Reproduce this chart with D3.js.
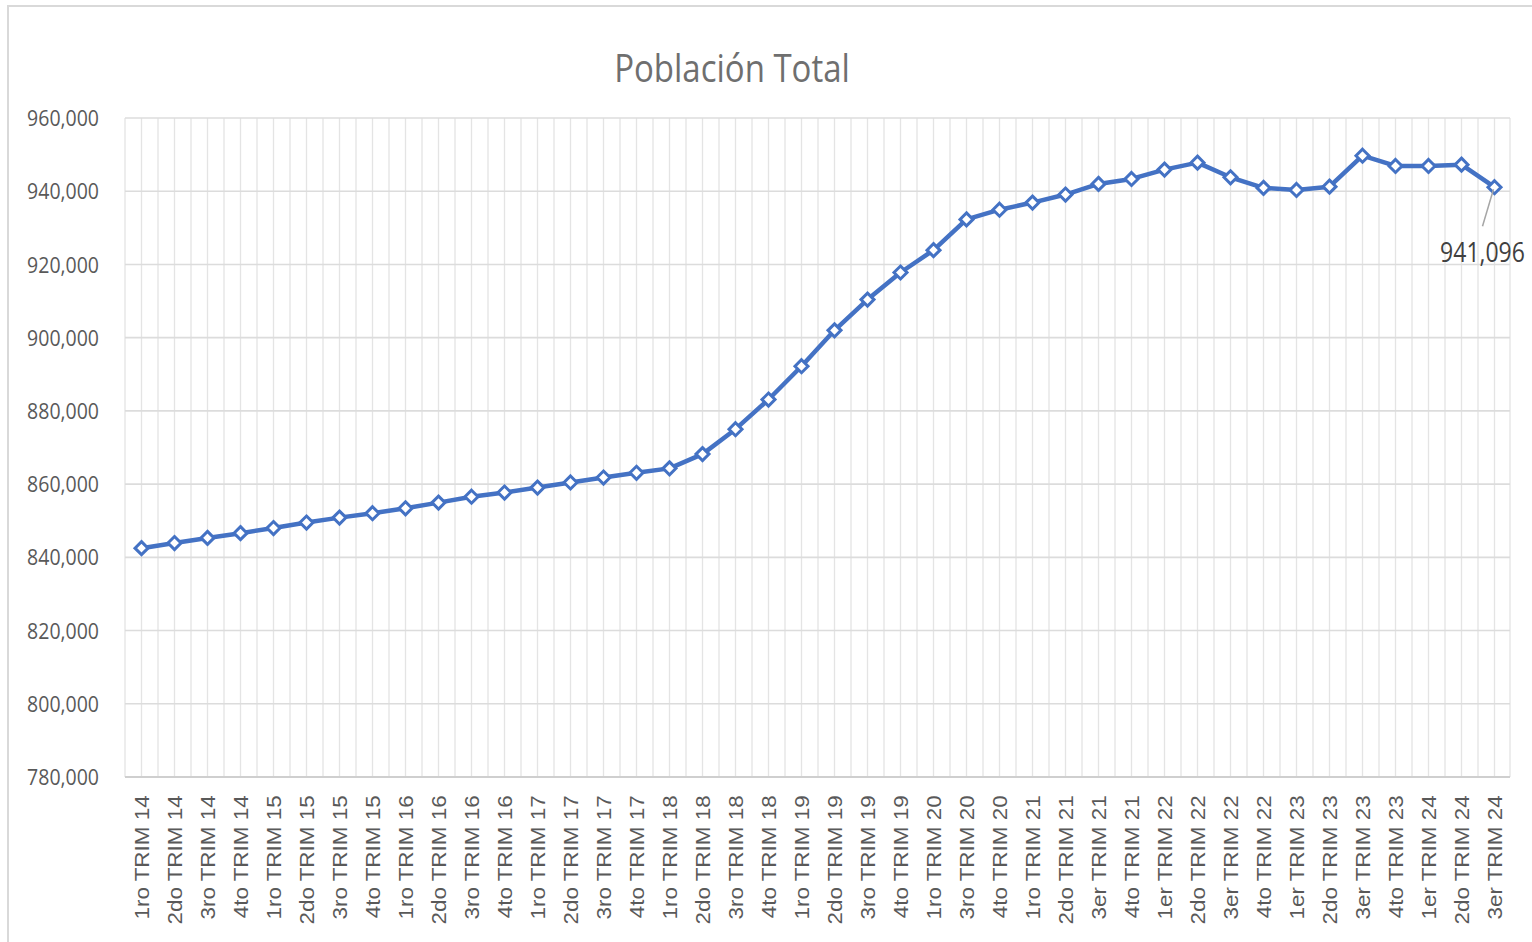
<!DOCTYPE html>
<html>
<head>
<meta charset="utf-8">
<script src="https://cdn.jsdelivr.net/npm/d3@7"></script>
<style>
  html, body { margin: 0; padding: 0; background: #ffffff; }
  svg { display: block; }
</style>
</head>
<body>
<svg id="chart" width="1532" height="942"></svg>
<script>
const title = "Población Total";
const categories = [
  "1ro TRIM 14","2do TRIM 14","3ro TRIM 14","4to TRIM 14",
  "1ro TRIM 15","2do TRIM 15","3ro TRIM 15","4to TRIM 15",
  "1ro TRIM 16","2do TRIM 16","3ro TRIM 16","4to TRIM 16",
  "1ro TRIM 17","2do TRIM 17","3ro TRIM 17","4to TRIM 17",
  "1ro TRIM 18","2do TRIM 18","3ro TRIM 18","4to TRIM 18",
  "1ro TRIM 19","2do TRIM 19","3ro TRIM 19","4to TRIM 19",
  "1ro TRIM 20","3ro TRIM 20","4to TRIM 20",
  "1ro TRIM 21","2do TRIM 21","3er TRIM 21","4to TRIM 21",
  "1er TRIM 22","2do TRIM 22","3er TRIM 22","4to TRIM 22",
  "1er TRIM 23","2do TRIM 23","3er TRIM 23","4to TRIM 23",
  "1er TRIM 24","2do TRIM 24","3er TRIM 24"
];
const poblacion = [
  842500, 843900, 845300, 846600,
  848000, 849500, 850850, 852050,
  853400, 854950, 856550, 857700,
  859050, 860450, 861800, 863100,
  864300, 868200, 875000, 883100,
  892200, 902000, 910400, 917800,
  923900, 932300, 934950,
  936900, 939100, 942000, 943350,
  945900, 947800, 943800, 940900,
  940350, 941250, 949700, 946900,
  946900, 947250, 941096
];
const yTicks = [780000, 800000, 820000, 840000, 860000, 880000, 900000, 920000, 940000, 960000];
const labelledIndex = poblacion.length - 1;

const svg = d3.select("#chart");
const plot = { left: 125, right: 1511, top: 118, bottom: 777 };
const VS = 1.15; // vertical stretch of glyphs in the reference

// chart border
svg.append("rect")
  .attr("x", 8).attr("y", 6).attr("width", 1540).attr("height", 950)
  .attr("fill", "#ffffff").attr("stroke", "#d9d9d9").attr("stroke-width", 2);

const x = d3.scaleBand().domain(categories).range([plot.left, plot.right]).padding(0);
const y = d3.scaleLinear().domain([780000, 960000]).range([plot.bottom, plot.top]);

// vertical gridlines (category boundaries and centres)
const vgrid = [];
categories.forEach(c => { vgrid.push(x(c)); vgrid.push(x(c) + x.bandwidth() / 2); });
vgrid.push(plot.right - 1);
svg.append("g").selectAll("line").data(vgrid).join("line")
  .attr("x1", d => d).attr("x2", d => d)
  .attr("y1", plot.top).attr("y2", plot.bottom)
  .attr("stroke", "#e4e4e4").attr("stroke-width", 1.3);

// horizontal gridlines
svg.append("g").selectAll("line").data(yTicks.filter(t => t !== 780000)).join("line")
  .attr("x1", plot.left).attr("x2", plot.right - 1)
  .attr("y1", d => y(d)).attr("y2", d => y(d))
  .attr("stroke", "#dcdcdc").attr("stroke-width", 1.6);

// y axis
const yAxis = svg.append("g").attr("transform", `translate(${plot.left},0)`)
  .call(d3.axisLeft(y).tickValues(yTicks).tickSize(0).tickPadding(26).tickFormat(d3.format(",")));
yAxis.select(".domain").remove();
yAxis.selectAll("text")
  .attr("font-family", "'Open Sans', sans-serif")
  .attr("font-size", 19.5)
  .attr("fill", "#595959")
  .attr("dy", "0.34em")
  .attr("transform", `scale(1,${VS})`);

// x axis
const xAxis = svg.append("g").attr("transform", `translate(0,${plot.bottom})`)
  .call(d3.axisBottom(x).tickSize(0).tickPadding(0));
xAxis.select(".domain").attr("stroke", "#cfcfcf").attr("stroke-width", 2)
  .attr("d", `M${plot.left},0H${plot.right - 1}`);
xAxis.selectAll("text")
  .attr("font-family", "'Liberation Sans', Arial, sans-serif")
  .attr("font-size", 19.5)
  .attr("fill", "#595959")
  .attr("text-anchor", "end")
  .attr("x", -16)
  .attr("y", 0)
  .attr("dy", "0.36em")
  .attr("transform", `rotate(-90) scale(${VS},1)`);

// line
const line = d3.line()
  .x((d, i) => x(categories[i]) + x.bandwidth() / 2)
  .y(d => y(d));
svg.append("path").datum(poblacion)
  .attr("d", line)
  .attr("fill", "none")
  .attr("stroke", "#4472C4")
  .attr("stroke-width", 4.5)
  .attr("stroke-linejoin", "round");

// diamond markers
const r = 6.5;
svg.append("g").selectAll("path").data(poblacion).join("path")
  .attr("transform", (d, i) => `translate(${x(categories[i]) + x.bandwidth() / 2},${y(d)})`)
  .attr("d", `M0,${-r}L${r},0L0,${r}L${-r},0Z`)
  .attr("fill", "#ffffff")
  .attr("stroke", "#4472C4")
  .attr("stroke-width", 3);

// data label with leader line
const lx = x(categories[labelledIndex]) + x.bandwidth() / 2;
const ly = y(poblacion[labelledIndex]);
svg.append("line")
  .attr("x1", lx - 1).attr("y1", ly + 2)
  .attr("x2", lx - 12).attr("y2", ly + 39)
  .attr("stroke", "#a6a6a6").attr("stroke-width", 1.5);
svg.append("text")
  .attr("transform", `translate(${lx - 12},${ly + 75}) scale(1,${VS})`)
  .attr("text-anchor", "middle")
  .attr("font-family", "'Open Sans', sans-serif")
  .attr("font-size", 23)
  .attr("fill", "#404040")
  .text(d3.format(",")(poblacion[labelledIndex]));

// title
svg.append("text")
  .attr("transform", `translate(732,82) scale(1,${VS})`)
  .attr("text-anchor", "middle")
  .attr("font-family", "'Open Sans', sans-serif")
  .attr("font-size", 33)
  .attr("fill", "#6f6f6f")
  .text(title);
</script>
</body>
</html>
